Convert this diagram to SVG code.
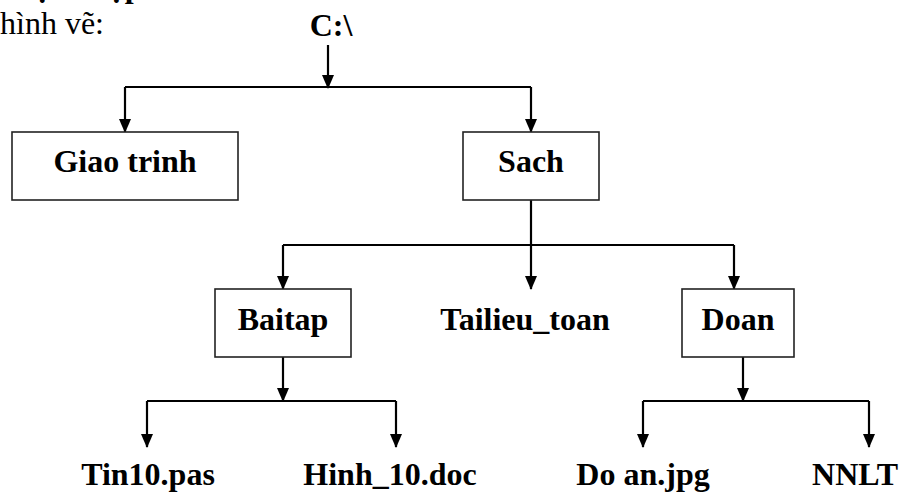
<svg xmlns="http://www.w3.org/2000/svg" width="900" height="494" viewBox="0 0 900 494" font-family="'Liberation Serif', 'DejaVu Serif', serif">
<style>
text{font-family:'Liberation Serif','DejaVu Serif',serif}
.t{font-size:32px;font-weight:bold;fill:#000;text-anchor:middle}
.r{font-size:32px;fill:#000}
.box{fill:#fff;stroke:#222;stroke-width:1.6}
.ln{fill:none;stroke:#000;stroke-width:2.2}
.ar{fill:none;stroke:#000;stroke-width:2.2;marker-end:url(#ah)}
</style>
<defs>
<marker id="ah" viewBox="0 0 14 12" refX="13" refY="6" markerWidth="14" markerHeight="12" markerUnits="userSpaceOnUse" orient="auto">
<path d="M0,0 L14,6 L0,12 z" fill="#000"/>
</marker>
</defs>
<rect width="900" height="494" fill="#fff"/>
<text class="r" x="13" y="-3" font-weight="bold" font-family="'Liberation Serif', serif">Bộ</text>
<text class="r" x="98" y="-3" font-weight="bold" font-family="'Liberation Serif', serif">tập</text>
<text class="r" x="0" y="34" font-family="'Liberation Serif', serif">hình vẽ:</text>
<g id="connectors">
<path class="ar" d="M328,45 V88"/>
<path class="ln" d="M125,87 H531"/>
<path class="ar" d="M125,87 V132"/>
<path class="ar" d="M531,87 V132"/>
<path class="ln" d="M531,200 V245"/>
<path class="ln" d="M283,245 H734"/>
<path class="ar" d="M283,245 V289"/>
<path class="ar" d="M531,245 V289"/>
<path class="ar" d="M734,245 V289"/>
<path class="ar" d="M283,357 V401"/>
<path class="ln" d="M147,401 H396"/>
<path class="ar" d="M147,401 V447"/>
<path class="ar" d="M396,401 V447"/>
<path class="ar" d="M743,357 V401"/>
<path class="ln" d="M643,401 H869"/>
<path class="ar" d="M643,401 V447"/>
<path class="ar" d="M869,401 V447"/>
</g>
<g id="root"><text class="t" x="331" y="36" font-family="'Liberation Serif', serif">C:\</text></g>
<g id="giaotrinh"><rect class="box" x="12" y="132" width="226" height="68"/><text class="t" x="125" y="172" font-family="'Liberation Serif', serif">Giao trinh</text></g>
<g id="sach"><rect class="box" x="463" y="132" width="136" height="68"/><text class="t" x="531" y="172" font-family="'Liberation Serif', serif">Sach</text></g>
<g id="baitap"><rect class="box" x="215" y="289" width="136" height="68"/><text class="t" x="283" y="330" font-family="'Liberation Serif', serif">Baitap</text></g>
<g id="tailieu"><text class="t" x="525" y="330" font-family="'Liberation Serif', serif">Tailieu_toan</text></g>
<g id="doan"><rect class="box" x="682" y="289" width="112" height="68"/><text class="t" x="738" y="330" font-family="'Liberation Serif', serif">Doan</text></g>
<g id="tin10"><text class="t" x="148" y="485" font-family="'Liberation Serif', serif">Tin10.pas</text></g>
<g id="hinh10"><text class="t" x="390" y="485" font-family="'Liberation Serif', serif">Hinh_10.doc</text></g>
<g id="doanjpg"><text class="t" x="643" y="485" font-family="'Liberation Serif', serif">Do an.jpg</text></g>
<g id="nnlt"><text class="t" x="855" y="485" font-family="'Liberation Serif', serif">NNLT</text></g>
</svg>
